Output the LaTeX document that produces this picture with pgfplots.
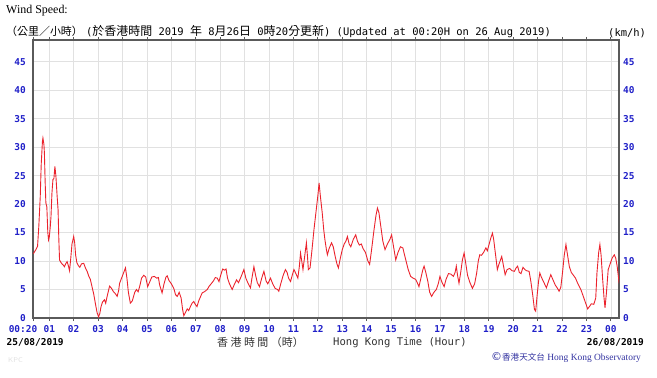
\documentclass[border=0pt]{standalone}
\usepackage{pgfplots}
\pgfplotsset{compat=1.18}
\usepackage{fontspec}
\setmainfont{Liberation Serif}
\setmonofont{DejaVu Sans Mono}
\newfontfamily\cjk{Noto Sans CJK TC}
\newfontfamily\dejavu{DejaVu Sans}
\newcommand\C[1]{{\cjk #1}}
\definecolor{tickblue}{RGB}{32,32,200}
\definecolor{axgray}{RGB}{90,90,90}
\definecolor{gridgray}{RGB}{225,225,225}
\definecolor{windred}{RGB}{235,35,45}
\definecolor{hkoblue}{RGB}{50,50,160}
\definecolor{txtgray}{RGB}{50,50,50}

\pgfplotstableread{
h v
0.35 11.3
0.45 12.0
0.52 12.6
0.57 16
0.63 21.3
0.67 27
0.72 31.0
0.74 31.6
0.78 30.5
0.80 29.0
0.83 24
0.86 20.2
0.90 19.5
0.94 15
0.97 13.7
1.00 14.2
1.04 16
1.07 17.8
1.11 22
1.15 24.3
1.19 24.5
1.23 26.6
1.27 25
1.32 21.5
1.36 19
1.39 14
1.42 10.2
1.47 9.8
1.52 9.5
1.57 9.3
1.62 9.0
1.67 9.5
1.73 9.9
1.78 9.2
1.83 8.3
1.88 10.5
1.93 13
2.00 14.3
2.04 13.2
2.08 11
2.13 9.7
2.19 9.2
2.25 8.9
2.32 9.5
2.41 9.6
2.48 8.8
2.55 8.2
2.62 7.3
2.68 6.8
2.75 5.5
2.82 4.2
2.89 2.5
2.96 0.9
3.02 0.2
3.07 0.8
3.12 2.0
3.18 2.8
3.26 3.2
3.31 2.6
3.38 4.0
3.47 5.6
3.55 5.2
3.63 4.6
3.70 4.3
3.78 3.8
3.84 4.8
3.88 6.1
3.96 7.0
4.05 8.0
4.12 8.8
4.18 7.0
4.24 4.5
4.32 2.6
4.40 3.0
4.50 4.5
4.57 5.0
4.64 4.6
4.70 5.5
4.78 7.0
4.87 7.5
4.95 7.2
5.03 5.5
5.10 6.2
5.20 7.2
5.30 7.3
5.40 7.0
5.47 7.1
5.52 5.8
5.62 4.4
5.70 6.0
5.78 7.2
5.83 7.4
5.90 6.6
6.00 6.0
6.10 5.2
6.17 4.1
6.24 3.8
6.32 4.5
6.40 3.5
6.46 1.5
6.51 0.4
6.58 1.0
6.65 1.6
6.71 1.3
6.78 2.0
6.85 2.6
6.92 2.9
6.98 2.4
7.05 2.0
7.12 3.0
7.20 3.8
7.26 4.4
7.35 4.6
7.47 5.0
7.55 5.6
7.63 6.0
7.72 6.5
7.80 7.1
7.88 7.0
7.95 6.4
8.02 7.5
8.10 8.6
8.18 8.4
8.24 8.6
8.30 7.0
8.38 6.0
8.49 5.0
8.57 5.8
8.67 6.7
8.75 6.2
8.85 7.2
8.97 8.5
9.05 7.0
9.15 6.0
9.24 5.3
9.30 7.0
9.38 9.0
9.45 7.5
9.52 6.2
9.61 5.5
9.70 7.0
9.79 8.2
9.88 6.5
9.95 6.0
10.06 7.0
10.15 6.0
10.25 5.2
10.35 5.0
10.40 4.7
10.48 6.0
10.58 7.5
10.67 8.5
10.74 8.0
10.80 7.0
10.88 6.4
10.95 7.5
11.02 8.5
11.10 7.8
11.18 7.0
11.24 9.0
11.29 11.4
11.34 10.0
11.39 8.5
11.45 10.5
11.53 13.2
11.58 10.5
11.61 8.5
11.68 8.8
11.76 12
11.84 15.5
11.92 18.5
12.00 21.5
12.05 23.7
12.10 21.5
12.18 18.4
12.24 15.5
12.29 13.7
12.35 12.0
12.39 11.1
12.46 12.2
12.56 13.2
12.63 12.5
12.70 11.0
12.78 9.5
12.84 8.8
12.92 10.5
13.00 12.0
13.08 13.0
13.15 13.5
13.21 14.3
13.28 13.0
13.35 12.5
13.45 13.8
13.55 14.6
13.62 13.5
13.70 12.8
13.78 13.0
13.85 12.2
13.95 11.5
14.05 10.0
14.12 9.4
14.20 12
14.30 15.5
14.38 18.0
14.44 19.3
14.50 18.5
14.58 16.0
14.66 13.5
14.75 12.0
14.85 13.0
14.95 13.8
15.02 14.6
15.10 12.5
15.19 10.2
15.28 11.5
15.38 12.5
15.48 12.3
15.60 10.2
15.70 8.5
15.80 7.3
15.90 7.0
16.00 6.8
16.07 6.2
16.14 5.5
16.22 7.0
16.30 8.5
16.35 9.1
16.42 8.0
16.50 6.5
16.58 4.5
16.66 3.8
16.75 4.5
16.85 5.0
16.93 6.0
17.00 7.3
17.08 6.3
17.17 5.5
17.25 6.8
17.35 7.8
17.45 7.7
17.55 7.3
17.62 8.0
17.67 9.1
17.72 7.5
17.78 6.1
17.85 8.0
17.92 10.2
17.99 11.4
18.06 9.5
18.13 7.5
18.22 6.3
18.33 5.2
18.42 6.0
18.50 7.8
18.57 10.0
18.63 11.1
18.70 11.0
18.80 11.6
18.88 12.3
18.94 11.8
19.01 12.9
19.08 14.0
19.15 14.9
19.20 13.8
19.28 11.0
19.35 8.5
19.42 9.5
19.53 10.8
19.60 9.2
19.67 7.6
19.75 8.5
19.85 8.7
19.95 8.3
20.05 8.2
20.12 8.8
20.18 9.1
20.25 8.0
20.32 7.8
20.40 8.9
20.48 8.5
20.55 8.3
20.65 8.2
20.72 6.5
20.80 4.0
20.87 1.5
20.92 1.2
20.98 4.0
21.04 6.5
21.09 7.9
21.15 7.2
21.25 6.3
21.36 5.3
21.45 6.5
21.54 7.6
21.62 6.8
21.72 5.8
21.80 5.3
21.88 4.7
21.95 5.4
22.02 8.0
22.09 11.0
22.16 12.9
22.22 11.2
22.30 9.0
22.38 8.0
22.45 7.6
22.55 7.0
22.65 6.0
22.77 5.0
22.87 3.8
22.96 2.7
23.05 1.6
23.12 2.0
23.20 2.5
23.30 2.4
23.38 3.5
23.43 7.9
23.50 11.5
23.55 12.9
23.60 11.0
23.66 7.0
23.72 3.5
23.76 1.8
23.82 4.5
23.89 8.5
23.97 9.5
24.05 10.5
24.14 11.1
24.20 10.5
24.26 9.0
24.34 6.1
}\wind

\begin{document}
\begin{tikzpicture}[x=1bp,y=1bp]
\useasboundingbox (0,0) rectangle (657,377);
\begin{axis}[at={(33bp,59bp)}, anchor=south west, scale only axis,
  width=586bp, height=278bp,
  xmin=0.3333, xmax=24.3333, ymin=0, ymax=48.8,
  xtick={1,...,24},
  xticklabels={01,02,03,04,05,06,07,08,09,10,11,12,13,14,15,16,17,18,19,20,21,22,23,00},
  extra x ticks={0.3333}, extra x tick labels={00:20},
  extra x tick style={grid=none, xticklabel style={xshift=-10bp}},
  ytick={0,5,...,45},
  yticklabels={0,5,10,15,20,25,30,35,40,45},
  grid=major,
  major grid style={gridgray, line width=0.7bp},
  axis line style={axgray, line width=1.2bp},
  tick align=outside,
  major tick length=3bp,
  xtick style={axgray, line width=0.8bp},
  ytick style={draw=none},
  xticklabel style={anchor=north, inner sep=0pt, yshift=-4bp, text=tickblue,
    font=\ttfamily\bfseries\fontsize{9.5}{10}\selectfont},
  yticklabel style={anchor=east, inner sep=0pt, xshift=-4bp, text=tickblue,
    font=\ttfamily\bfseries\fontsize{9.5}{10}\selectfont},
]
\addplot[windred, line width=0.9bp] table[x=h, y=v] {\wind};
\end{axis}
\begin{axis}[at={(33bp,59bp)}, anchor=south west, scale only axis,
  width=586bp, height=278bp,
  xmin=0, xmax=1, ymin=0, ymax=48.8,
  hide x axis,
  axis y line*=right,
  y axis line style={draw=none},
  ytick={0,5,...,45},
  yticklabels={0,5,10,15,20,25,30,35,40,45},
  ytick style={draw=none},
  yticklabel style={anchor=west, inner sep=0pt, xshift=4bp, text=tickblue,
    font=\ttfamily\bfseries\fontsize{9.5}{10}\selectfont},
]
\end{axis}
\node[anchor=base west, inner sep=0pt, font=\fontsize{12}{12}\selectfont] at (6,364) {Wind Speed:};
\node[anchor=west, inner sep=0pt, font=\cjk\fontsize{11}{12}\selectfont] at (6,345.5) {（公里／小時）};
\node[anchor=west, inner sep=0pt, font=\ttfamily\fontsize{10.5}{12}\selectfont] at (86,345.5)
  {(\C{\fontsize{12}{12}\selectfont 於香港時間} 2019 \C{\fontsize{12}{12}\selectfont 年} 8\C{\fontsize{12}{12}\selectfont 月}26\C{\fontsize{12}{12}\selectfont 日} 0\C{\fontsize{12}{12}\selectfont 時}20\C{\fontsize{12}{12}\selectfont 分更新}) (Updated at 00:20H on 26 Aug 2019)};
\node[anchor=west, inner sep=0pt, font=\ttfamily\fontsize{10.5}{12}\selectfont] at (608,344) {(km/h)};
\node[anchor=west, inner sep=0pt, font=\ttfamily\bfseries\fontsize{9.5}{10}\selectfont] at (6.5,34.5) {25/08/2019};
\node[anchor=east, inner sep=0pt, font=\ttfamily\bfseries\fontsize{9.5}{10}\selectfont] at (644,34.5) {26/08/2019};
\node[anchor=west, inner sep=0pt, text=txtgray, font=\cjk\fontsize{11}{12}\selectfont] at (217,34.5) {香 港 時 間 （時）};
\node[anchor=west, inner sep=0pt, text=txtgray, font=\ttfamily\fontsize{10.6}{12}\selectfont] at (333,34.5) {Hong Kong Time (Hour)};
\node[anchor=west, inner sep=0pt, text=hkoblue, font=\fontsize{9.5}{10}\selectfont] at (491,19)
  {{\dejavu\fontsize{11}{11}\selectfont ©}{\cjk\fontsize{8.6}{10}\selectfont 香港天文台} Hong Kong Observatory};
\node[anchor=west, inner sep=0pt, text=black!12, font=\sffamily\fontsize{7}{8}\selectfont] at (8,17) {KPC};
\end{tikzpicture}
\end{document}
